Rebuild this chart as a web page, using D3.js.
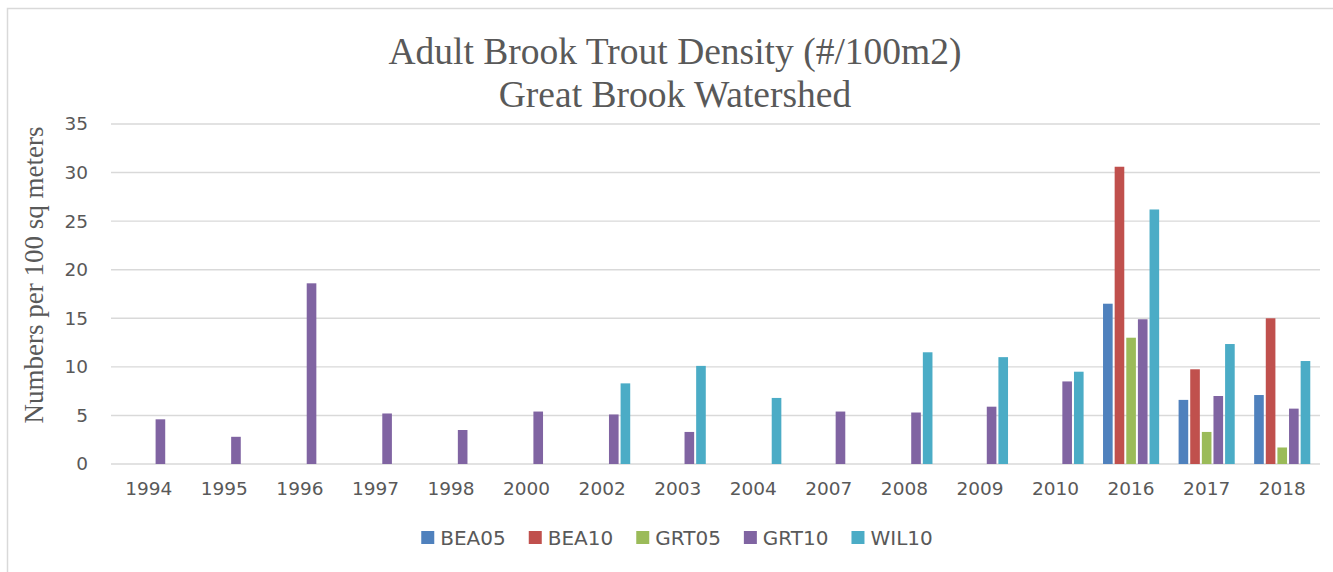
<!DOCTYPE html>
<html>
<head>
<meta charset="utf-8">
<script src="https://cdn.jsdelivr.net/npm/d3@7"></script>
<style>
  body { margin: 0; background: #fff; }
  svg { display: block; }
</style>
</head>
<body>
<svg id="chart" width="1333" height="572"></svg>
<script>
// categories (survey years) and one array per station
var years = ["1994", "1995", "1996", "1997", "1998", "2000", "2002", "2003", "2004",
             "2007", "2008", "2009", "2010", "2016", "2017", "2018"];
var seriesNames = ["BEA05", "BEA10", "GRT05", "GRT10", "WIL10"];
var BEA05 = [null, null, null, null, null, null, null, null, null, null, null, null, null, 16.5, 6.6, 7.1];
var BEA10 = [null, null, null, null, null, null, null, null, null, null, null, null, null, 30.6, 9.75, 15.0];
var GRT05 = [null, null, null, null, null, null, null, null, null, null, null, null, null, 13.0, 3.3, 1.7];
var GRT10 = [4.6, 2.8, 18.6, 5.2, 3.5, 5.4, 5.1, 3.3, null, 5.4, 5.3, 5.9, 8.5, 14.9, 7.0, 5.7];
var WIL10 = [null, null, null, null, null, null, 8.3, 10.1, 6.8, null, 11.5, 11.0, 9.5, 26.2, 12.35, 10.6];
var yTicks = [0, 5, 10, 15, 20, 25, 30, 35];
var titleLines = ["Adult Brook Trout Density (#/100m2)", "Great Brook Watershed"];
var yTitle = "Numbers per 100 sq meters";

var seriesValues = [BEA05, BEA10, GRT05, GRT10, WIL10];
var colors = ["#4F81BD", "#C0504D", "#9BBB59", "#8064A2", "#4BACC6"];

var svg = d3.select("#chart");
var textColor = "#595959";
var gridColor = "#d9d9d9";
var tickFont = "DejaVu Sans, sans-serif";
var serif = "Liberation Serif, Times New Roman, serif";

// chart frame
svg.append("rect")
  .attr("x", 7.5).attr("y", 8.5)
  .attr("width", 1340).attr("height", 580)
  .attr("fill", "none")
  .attr("stroke", gridColor)
  .attr("stroke-width", 1.5);

var plot = { left: 111, right: 1320, top: 124, bottom: 464 };

var x = d3.scaleBand().domain(years).range([plot.left, plot.right]).padding(0);
var slot = x.bandwidth() / 6.5;   // gap width 150%
var xs = d3.scaleBand().domain(seriesNames).range([-2.5 * slot, 2.5 * slot]).padding(0);
var y = d3.scaleLinear().domain([0, 35]).range([plot.bottom, plot.top]);

// gridlines
svg.append("g").selectAll("line")
  .data(yTicks)
  .enter().append("line")
  .attr("x1", plot.left).attr("x2", plot.right)
  .attr("y1", d => y(d)).attr("y2", d => y(d))
  .attr("stroke", gridColor)
  .attr("stroke-width", 1.4);

// y axis labels
var yAxis = svg.append("g")
  .attr("transform", "translate(" + 88 + ",0)")
  .call(d3.axisLeft(y).tickValues(yTicks).tickSize(0).tickPadding(0));
yAxis.select(".domain").remove();
yAxis.selectAll("text")
  .attr("fill", textColor)
  .style("font-family", tickFont)
  .style("font-size", "18.5px");

// x axis labels
var xAxis = svg.append("g")
  .attr("transform", "translate(0," + plot.bottom + ")")
  .call(d3.axisBottom(x).tickSize(0).tickPadding(18));
xAxis.select(".domain").remove();
xAxis.selectAll("text")
  .attr("fill", textColor)
  .style("font-family", tickFont)
  .style("font-size", "18.5px");

// bars
seriesNames.forEach(function(name, si) {
  var rows = years.map(function(yr, i) { return { year: yr, value: seriesValues[si][i] }; })
    .filter(d => d.value != null);
  svg.append("g").selectAll("rect")
    .data(rows)
    .enter().append("rect")
    .attr("x", d => x(d.year) + x.bandwidth() / 2 + xs(name) + 1)
    .attr("width", xs.bandwidth() - 2)
    .attr("y", d => y(d.value))
    .attr("height", d => y(0) - y(d.value))
    .attr("fill", colors[si]);
});

// title
svg.append("text")
  .attr("x", 675).attr("y", 64)
  .attr("text-anchor", "middle")
  .attr("fill", textColor)
  .style("font-family", serif)
  .style("font-size", "37.5px")
  .selectAll("tspan")
  .data(titleLines)
  .enter().append("tspan")
  .attr("x", 675)
  .attr("dy", (d, i) => i == 0 ? 0 : 43)
  .text(d => d);

// y axis title
svg.append("text")
  .attr("transform", "translate(43,275) rotate(-90)")
  .attr("text-anchor", "middle")
  .attr("fill", textColor)
  .style("font-family", serif)
  .style("font-size", "27px")
  .text(yTitle);

// legend
var legend = svg.append("g");
var lx = 0;
seriesNames.forEach(function(name, i) {
  var item = legend.append("g").attr("transform", "translate(" + lx + ",0)");
  item.append("rect")
    .attr("x", 0).attr("y", 531)
    .attr("width", 13).attr("height", 13)
    .attr("fill", colors[i]);
  var t = item.append("text")
    .attr("x", 19).attr("y", 545)
    .attr("fill", textColor)
    .style("font-family", tickFont)
    .style("font-size", "20px")
    .text(name);
  lx += 19 + t.node().getComputedTextLength() + 23;
});
var legendWidth = lx - 23;
legend.attr("transform", "translate(" + (677 - legendWidth / 2) + ",0)");
</script>
</body>
</html>
